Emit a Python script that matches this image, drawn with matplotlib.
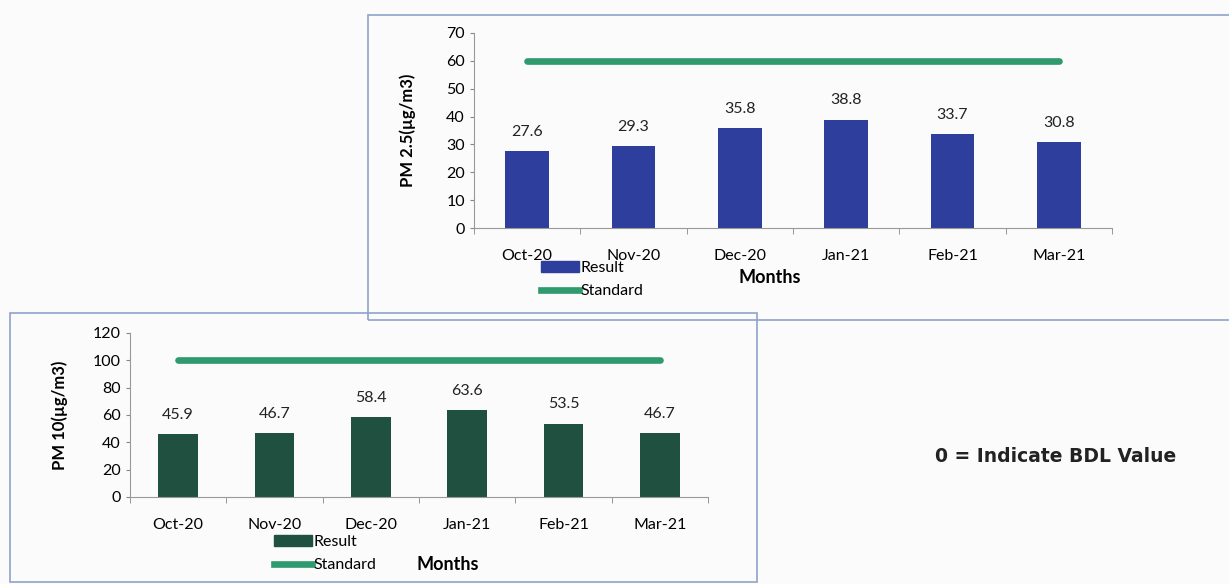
import matplotlib
matplotlib.use("Agg")
import matplotlib.pyplot as plt
from matplotlib.patches import Rectangle, Patch
from matplotlib.lines import Line2D

months = ["Oct-20", "Nov-20", "Dec-20", "Jan-21", "Feb-21", "Mar-21"]
pm25 = [27.6, 29.3, 35.8, 38.8, 33.7, 30.8]
pm25_std = [60, 60, 60, 60, 60, 60]
pm10 = [45.9, 46.7, 58.4, 63.6, 53.5, 46.7]
pm10_std = [100, 100, 100, 100, 100, 100]

W, H = 1229, 584
plt.rcParams['font.family'] = ['Lato', 'DejaVu Sans']

fig = plt.figure(figsize=(W / 100, H / 100), dpi=100)
fig.patch.set_facecolor('#fbfbfb')


def box(x0, y0, x1, y1):
    # pixel coords, y from top
    fig.patches.append(Rectangle((x0 / W, 1 - y1 / H), (x1 - x0) / W, (y1 - y0) / H,
                                 transform=fig.transFigure, fill=False,
                                 edgecolor='#8fa3c9', lw=1.2))


def chart(rect, vals, std, ymax, step, color, ylabel, lpad, leg_x, leg_y, months_xy):
    x0, ytop, x1, ybot = rect
    ax = fig.add_axes([x0 / W, 1 - ybot / H, (x1 - x0) / W, (ybot - ytop) / H])
    ax.set_facecolor('none')
    pos = range(len(months))
    ax.bar(pos, vals, width=0.41, color=color, zorder=2)
    ax.plot(pos, std, color='#2e9a6e', lw=4.8, solid_capstyle='round', zorder=3)
    for p, v in zip(pos, vals):
        ax.annotate(f"{v:.1f}", (p, v), xytext=(0, 9), textcoords='offset points',
                    ha='center', va='bottom', fontsize=11.5, color='#222222')
    ax.set_xlim(-0.5, len(months) - 0.5)
    ax.set_ylim(0, ymax)
    ax.set_yticks(range(0, ymax + 1, step))
    ax.set_xticks(list(pos))
    ax.set_xticklabels(months)
    ax.set_xticks([p - 0.5 for p in range(len(months) + 1)], minor=True)
    ax.tick_params(axis='x', which='major', length=0, pad=15, labelsize=11.5)
    ax.tick_params(axis='x', which='minor', length=4, color='#888888')
    ax.tick_params(axis='y', length=3, color='#888888', labelsize=11.5)
    for s in ['top', 'right']:
        ax.spines[s].set_visible(False)
    ax.spines['left'].set_color('#999999')
    ax.spines['bottom'].set_color('#999999')
    ax.set_ylabel(ylabel, fontsize=12, fontweight='bold', labelpad=lpad)
    handles = [Patch(color=color), Line2D([0], [0], color='#2e9a6e', lw=4.8)]
    fig.legend(handles, ['Result', 'Standard'], loc='upper left',
               bbox_to_anchor=(leg_x / W, 1 - leg_y / H), frameon=False,
               fontsize=11.5, handlelength=2.4, handletextpad=0.1,
               labelspacing=0.55, borderpad=0, borderaxespad=0)
    fig.text(months_xy[0] / W, 1 - months_xy[1] / H, 'Months', ha='center',
             va='center', fontsize=13, fontweight='bold')
    return ax


box(368, 15, 1236, 320)
box(10, 313, 757, 582)

chart((474, 33, 1112, 228), pm25, pm25_std, 70, 10, '#2e3e9c',
      'PM 2.5(µg/m3)', 22, 541, 261, (770, 277))
chart((130, 333, 708, 497), pm10, pm10_std, 120, 20, '#1f5040',
      'PM 10(µg/m3)', 18, 274, 535, (448, 565))

fig.text(935 / W, 1 - 457 / H, '0 = Indicate BDL Value', fontsize=13.5,
         fontweight='bold', family='DejaVu Sans', va='center', color='#222222')

fig.savefig('out.png', dpi=100, facecolor=fig.get_facecolor())
